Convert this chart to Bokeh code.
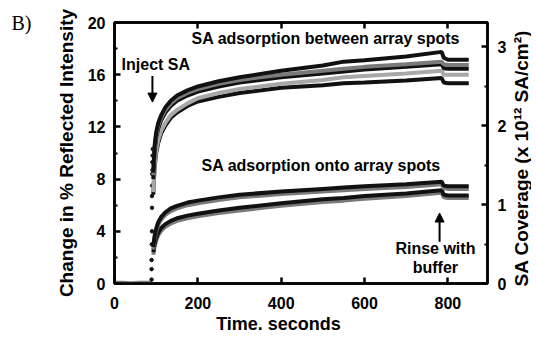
import math
from bokeh.plotting import figure
from bokeh.models import Range1d, LinearAxis, FixedTicker, Label, Arrow, NormalHead, Title
from bokeh.embed import file_html
from bokeh.resources import INLINE

# ---------------- data ----------------
time_s = [93, 96, 100, 105, 112, 122, 135, 150, 175, 200, 250, 300, 400, 500,
          550, 600, 700, 785, 790, 800, 850]

# SA adsorption between array spots (upper group)
between_a = [8.5, 10.5, 11.6, 12.3, 12.9, 13.5, 14.0, 14.4, 14.8, 15.1, 15.5, 15.8, 16.3, 16.7,
             17.0, 17.1, 17.4, 17.75, 17.3, 17.15, 17.15]
between_b = [8.3, 10.3, 11.4, 12.1, 12.7, 13.3, 13.8, 14.2, 14.6, 14.9, 15.3, 15.6, 16.0, 16.3,
             16.45, 16.6, 16.8, 17.0, 16.8, 16.75, 16.75]
between_c = [8.0, 10.0, 11.2, 11.9, 12.5, 13.1, 13.6, 14.0, 14.4, 14.7, 15.1, 15.4, 15.8, 16.1,
             16.25, 16.4, 16.6, 16.8, 16.5, 16.45, 16.45]
between_d = [7.0, 9.0, 10.2, 11.0, 11.7, 12.3, 12.9, 13.3, 13.8, 14.2, 14.6, 14.9, 15.3, 15.6,
             15.8, 15.9, 16.1, 16.3, 16.0, 16.0, 16.0]
between_e = [6.8, 8.8, 10.0, 10.8, 11.5, 12.1, 12.7, 13.1, 13.6, 13.95, 14.3, 14.6, 15.0, 15.2,
             15.35, 15.4, 15.55, 15.75, 15.4, 15.35, 15.35]

# SA adsorption onto array spots (lower group)
onto_a = [2.8, 3.6, 4.2, 4.7, 5.1, 5.45, 5.75, 5.95, 6.2, 6.35, 6.6, 6.8, 7.05, 7.25,
          7.35, 7.45, 7.6, 7.8, 7.5, 7.45, 7.45]
onto_b = [2.6, 3.4, 4.0, 4.5, 4.9, 5.25, 5.55, 5.75, 6.0, 6.15, 6.4, 6.6, 6.85, 7.05,
          7.15, 7.25, 7.4, 7.6, 7.3, 7.25, 7.25]
onto_c = [2.4, 3.0, 3.5, 3.9, 4.25, 4.55, 4.8, 5.0, 5.2, 5.35, 5.6, 5.8, 6.15, 6.45,
          6.55, 6.7, 6.9, 7.15, 6.8, 6.75, 6.75]
onto_d = [2.2, 2.8, 3.3, 3.7, 4.05, 4.35, 4.6, 4.8, 5.0, 5.15, 5.4, 5.6, 5.95, 6.25,
          6.35, 6.5, 6.7, 6.95, 6.6, 6.55, 6.55]

baseline_t = [0, 20, 40, 60, 80, 89]
baseline_y = [0.1, 0.1, 0.05, 0.1, 0.1, 0.1]

inject_t = [89, 89, 89, 89.5, 90, 90, 90, 90.5, 90.5, 91, 91, 91.5, 92]
inject_y = [0.3, 1.1, 1.8, 3.0, 4.0, 5.8, 6.7, 7.5, 8.4, 8.7, 9.3, 9.8, 10.3]

x_ticks = [0, 200, 400, 600, 800]
top_ticks = [200, 400, 600, 800]
y_ticks = [0, 4, 8, 12, 16, 20]
y_minor = [2, 6, 10, 14, 18]
cov_ticks = [0, 1, 2, 3]
cov_minor = [0.5, 1.5, 2.5]
cov_per_percent = 1 / 6.05   # SA coverage units per % reflected intensity

# ---------------- figure ----------------
FONT = "Liberation Sans"
p = figure(width=531, height=336, x_range=Range1d(0, 895), y_range=Range1d(0, 20),
           output_backend="svg", toolbar_location=None,
           min_border_left=114, min_border_right=44, min_border_top=22, min_border_bottom=53)
p.grid.visible = False
p.outline_line_color = "black"
p.outline_line_width = 2.5
p.extra_y_ranges = {"cov": Range1d(0, 20 * cov_per_percent)}


def style_axis(ax, standoff):
    ax.axis_line_width = 2.5
    ax.major_tick_in = 6
    ax.major_tick_out = 0
    ax.minor_tick_in = 3
    ax.minor_tick_out = 0
    ax.major_tick_line_width = 2.5
    ax.minor_tick_line_width = 2
    ax.major_label_text_font = FONT
    ax.major_label_text_font_style = "bold"
    ax.major_label_text_font_size = "16px"
    ax.major_label_text_color = "black"
    ax.major_label_standoff = standoff
    ax.axis_label_text_font = FONT
    ax.axis_label_text_font_style = "bold"
    ax.axis_label_text_color = "black"


xa = p.xaxis[0]
xa.ticker = FixedTicker(ticks=x_ticks)
style_axis(xa, 13)
xa.axis_label = "Time. seconds" + "\u00a0" * 9
xa.axis_label_text_font_size = "18px"
xa.axis_label_standoff = 2

ya = p.yaxis[0]
ya.ticker = FixedTicker(ticks=y_ticks, minor_ticks=y_minor)
style_axis(ya, 9)
ya.axis_label = "Change in % Reflected Intensity"
ya.axis_label_text_font_size = "19px"
ya.axis_label_standoff = 8

ra = LinearAxis(y_range_name="cov", ticker=FixedTicker(ticks=cov_ticks, minor_ticks=cov_minor))
style_axis(ra, 10)
p.add_layout(ra, "right")

ta = LinearAxis(ticker=FixedTicker(ticks=top_ticks))
style_axis(ta, 0)
ta.major_label_overrides = {t: "" for t in top_ticks}
ta.major_label_text_font_size = "1px"
p.add_layout(ta, "above")

p.add_layout(Title(text="B)", align="left", offset=-103, standoff=-22,
                   text_font="Liberation Serif", text_font_size="20px",
                   text_font_style="normal", text_color="black"), "above")

# right-hand axis title, reading bottom to top
p.add_layout(Label(x=976, y=9.6, text="SA Coverage (x 10\u00b9\u00b2 SA/cm\u00b2)",
                   angle=math.pi / 2, text_align="center", text_baseline="middle",
                   text_font=FONT, text_font_style="bold", text_font_size="19px",
                   text_color="black"), "right")

# ---------------- curves ----------------
black = "#111111"
gray = "#7a7a7a"
lgray = "#a8a8a8"

p.line(baseline_t, baseline_y, color=gray, line_width=3)
p.scatter(inject_t, inject_y, size=3.5, color=black)

for ys, col in [(between_e, black), (between_d, lgray), (between_c, black),
                (between_b, gray), (between_a, black)]:
    p.line(time_s, ys, color=col, line_width=4)

for ys, col in [(onto_d, gray), (onto_c, black), (onto_b, gray), (onto_a, black)]:
    p.line(time_s, ys, color=col, line_width=4)

# ---------------- annotations ----------------
def txt(x, y, s, size="16px", align="left", baseline="middle"):
    p.add_layout(Label(x=x, y=y, text=s, text_font=FONT, text_font_style="bold",
                       text_font_size=size, text_align=align, text_baseline=baseline,
                       text_color="black"))

txt(185, 18.77, "SA adsorption between array spots")
txt(209, 9.04, "SA adsorption onto array spots")
txt(17, 16.8, "Inject SA")
txt(770, 2.68, "Rinse with", align="center")
txt(770, 1.23, "buffer", align="center")

p.add_layout(Arrow(x_start=91, y_start=15.9, x_end=91, y_end=13.9, line_width=2,
                   line_color="black",
                   end=NormalHead(size=9, fill_color="black", line_color="black")))
p.add_layout(Arrow(x_start=780, y_start=3.2, x_end=780, y_end=5.4, line_width=2,
                   line_color="black",
                   end=NormalHead(size=9, fill_color="black", line_color="black")))

open("out.html", "w").write(file_html(p, INLINE))
